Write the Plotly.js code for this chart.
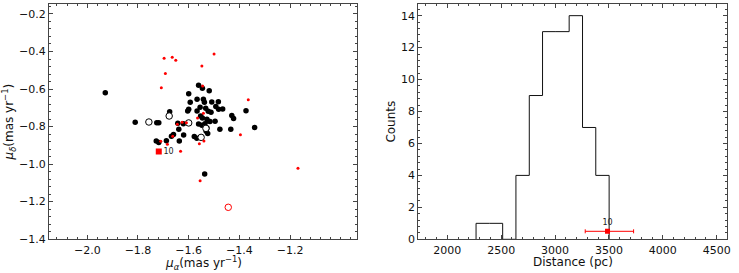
<!DOCTYPE html>
<html><head><meta charset="utf-8">
<script src="https://cdn.plot.ly/plotly-3.0.1.min.js"></script>
<style>body{margin:0;background:#fff}</style></head>
<body><div id="chart" style="width:739px;height:273px"></div>
<script>
// Proper motions of filled black members
const memberPmra = [-1.929,-1.811,-1.726,-1.718,-1.675,-1.728,-1.718,-1.688,-1.668,-1.660,-1.643,-1.639,-1.637,-1.620,-1.621,-1.600,-1.594,-1.604,-1.600,-1.561,-1.546,-1.519,-1.542,-1.567,-1.538,-1.509,-1.483,-1.493,-1.555,-1.533,-1.523,-1.512,-1.482,-1.466,-1.567,-1.553,-1.546,-1.528,-1.525,-1.516,-1.496,-1.536,-1.561,-1.548,-1.528,-1.477,-1.434,-1.430,-1.423,-1.374,-1.340,-1.578,-1.568,-1.537,-1.531,-1.525];
const memberPmdec = [-0.620,-0.778,-0.780,-0.780,-0.721,-0.877,-0.886,-0.876,-0.852,-0.843,-0.783,-0.815,-0.877,-0.845,-0.785,-0.625,-0.671,-0.717,-0.708,-0.580,-0.596,-0.609,-0.655,-0.655,-0.671,-0.669,-0.668,-0.694,-0.698,-0.703,-0.719,-0.724,-0.708,-0.707,-0.717,-0.744,-0.755,-0.762,-0.771,-0.774,-0.772,-0.785,-0.787,-0.794,-0.808,-0.815,-0.815,-0.742,-0.758,-0.716,-0.806,-0.854,-0.863,-1.053,-0.826,-0.838];
// Open black circles
const openPmra = [-1.757,-1.677,-1.600,-1.532,-1.551];
const openPmdec = [-0.776,-0.744,-0.781,-0.810,-0.858];
// Small red points
const fieldPmra = [-1.697,-1.665,-1.651,-1.500,-1.548,-1.692,-1.708,-1.365,-1.396,-1.169,-1.555,-1.632,-1.558,-1.540,-1.684,-1.710,-1.663,-1.645,-1.626,-1.609,-1.565,-1.542,-1.545];
const fieldPmdec = [-0.436,-0.431,-0.447,-0.413,-0.477,-0.518,-0.593,-0.657,-0.844,-1.023,-1.089,-0.932,-0.892,-0.877,-0.895,-0.879,-0.852,-0.788,-0.778,-0.780,-0.755,-0.730,-0.584];
// Red open circle
const redOpenPmra = [-1.444];
const redOpenPmdec = [-1.231];
// Star 10
const star10Pmra = [-1.718];
const star10Pmdec = [-0.934];
const star10Label = ["10"];
// Tick values (left panel)
const pmraTicks = [-2.0, -1.8, -1.6, -1.4, -1.2];
const pmdecTicks = [-1.4, -1.2, -1.0, -0.8, -0.6, -0.4, -0.2];
// Distance histogram
const binEdges = [2267, 2390, 2514, 2637, 2761, 2884, 3008, 3131, 3255, 3378, 3502];
const binCounts = [1, 1, 0, 4, 9, 13, 13, 14, 7, 4];
const star10Dist = [3487];
const star10DistErrPlus = [242];
const star10DistErrMinus = [207];
const star10DistY = [0.5];

// step outline from edges & counts
const stepX = [binEdges[0]].concat(binEdges);
const stepY = [0].concat(binCounts, [0]);

const F = "DejaVu Sans, sans-serif";
const AX = '#444';
const traces = [
  {x: memberPmra, y: memberPmdec, mode: 'markers', type: 'scatter', xaxis: 'x', yaxis: 'y',
   marker: {color: 'black', size: 5.5}},
  {x: openPmra, y: openPmdec, mode: 'markers', type: 'scatter', xaxis: 'x', yaxis: 'y',
   marker: {color: 'white', size: 6.5, line: {color: 'black', width: 1}}},
  {x: fieldPmra, y: fieldPmdec, mode: 'markers', type: 'scatter', xaxis: 'x', yaxis: 'y',
   marker: {color: 'red', size: 3}},
  {x: redOpenPmra, y: redOpenPmdec, mode: 'markers', type: 'scatter', xaxis: 'x', yaxis: 'y',
   marker: {color: 'rgba(0,0,0,0)', size: 6.5, line: {color: 'red', width: 1}}},
  {x: star10Pmra, y: star10Pmdec, mode: 'markers+text', type: 'scatter', xaxis: 'x', yaxis: 'y',
   text: star10Label, textposition: 'middle right', textfont: {family: F, size: 8, color: '#222'},
   marker: {color: 'red', size: 6, symbol: 'square'}},
  {x: stepX, y: stepY, mode: 'lines', type: 'scatter', xaxis: 'x2', yaxis: 'y2',
   line: {color: '#111', width: 1, shape: 'hv'}},
  {x: star10Dist, y: star10DistY, mode: 'markers+text', type: 'scatter', xaxis: 'x2', yaxis: 'y2',
   text: star10Label, textposition: 'top center', textfont: {family: F, size: 8, color: '#222'},
   marker: {color: 'red', size: 5, symbol: 'square'},
   error_x: {type: 'data', symmetric: false, array: star10DistErrPlus, arrayminus: star10DistErrMinus,
             color: 'red', thickness: 1, width: 2}}
];

const axBase = {
  showline: true, linecolor: AX, linewidth: 1, mirror: 'allticks',
  ticks: 'inside', ticklen: 4, tickcolor: AX, tickwidth: 1,
  showgrid: false, zeroline: false,
  tickfont: {family: F, size: 11, color: '#111'},
};
function ax(o) { return Object.assign({}, JSON.parse(JSON.stringify(axBase)), o); }
const TF = {family: F, size: 12, color: '#111'};
const dom1 = [49/739, 357.3/739], dom2 = [418.3/739, 726.7/739];
const titleY = 1 - 261.5/273;

const layout = {
  width: 739, height: 273, showlegend: false,
  paper_bgcolor: 'white', plot_bgcolor: 'white',
  margin: {l: 0, r: 0, t: 0, b: 0},
  font: {family: F},
  xaxis: ax({domain: dom1, range: [-2.151, -0.935], anchor: 'y',
    tickmode: 'array', tickvals: pmraTicks, tickformat: '.1f',
    minor: {ticks: 'inside', ticklen: 2, tick0: -2.0, dtick: 0.04, tickcolor: AX}}),
  yaxis: ax({domain: [1 - 239.3/273, 1 - 4/273], range: [-1.4016, -0.1467], anchor: 'x',
    tickmode: 'array', tickvals: pmdecTicks, tickformat: '.1f',
    minor: {ticks: 'inside', ticklen: 2, tick0: -1.4, dtick: 0.04, tickcolor: AX},
    title: {text: '<i>μ</i><sub><i>δ</i></sub>(mas yr<sup>−1</sup>)', font: TF, standoff: 2}}),
  xaxis2: ax({domain: dom2, range: [1731, 4593], anchor: 'y2',
    tick0: 2000, dtick: 500,
    minor: {ticks: 'inside', ticklen: 2, dtick: 100, tickcolor: AX}}),
  yaxis2: ax({domain: [1 - 239.3/273, 1 - 4/273], range: [0, 14.73], anchor: 'x2',
    tick0: 0, dtick: 2,
    minor: {ticks: 'inside', ticklen: 2, dtick: 0.4, tickcolor: AX},
    title: {text: 'Counts', font: TF, standoff: 2}}),
  annotations: [
    {xref: 'paper', yref: 'paper', x: (dom1[0] + dom1[1]) / 2, y: titleY - 0.004, xanchor: 'center', yanchor: 'middle',
     text: '<i>μ</i><sub><i>α</i></sub>(mas yr<sup>−1</sup>)', font: TF, showarrow: false},
    {xref: 'paper', yref: 'paper', x: (dom2[0] + dom2[1]) / 2, y: titleY, xanchor: 'center', yanchor: 'middle',
     text: 'Distance (pc)', font: TF, showarrow: false}
  ]
};

Plotly.newPlot('chart', traces, layout, {staticPlot: true, displayModeBar: false});
</script>
</body></html>
